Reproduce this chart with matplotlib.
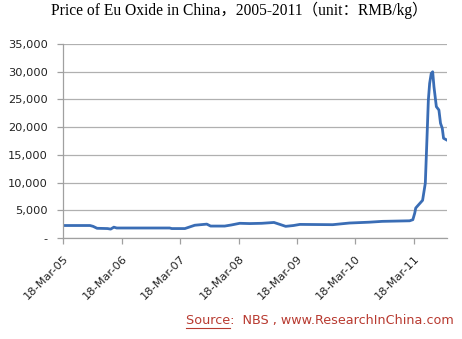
import pandas as pd
import matplotlib.pyplot as plt
import matplotlib.dates as mdates
from matplotlib.ticker import FuncFormatter
from matplotlib.lines import Line2D

# Price of Eu oxide
dates = ['2005-03-18', '2005-09-01', '2005-09-20', '2005-10-15', '2005-12-20', '2006-01-08',
         '2006-01-28', '2006-02-15', '2007-01-12', '2007-01-25', '2007-04-17', '2007-06-18',
         '2007-09-01', '2007-09-25', '2007-12-22', '2008-02-02', '2008-03-25', '2008-05-27',
         '2008-08-10', '2008-10-25', '2008-12-01', '2009-01-06', '2009-02-24', '2009-04-05',
         '2009-10-27', '2010-02-09', '2010-06-13', '2010-09-02', '2011-02-20', '2011-03-12',
         '2011-03-24', '2011-03-30', '2011-04-11', '2011-05-12', '2011-05-29', '2011-06-08',
         '2011-06-17', '2011-06-25', '2011-07-05', '2011-07-14', '2011-07-22', '2011-08-06',
         '2011-08-22', '2011-09-01', '2011-09-12', '2011-09-20', '2011-10-09']
prices = [2250, 2250, 2100, 1750, 1700, 1600,
          1950, 1800, 1800, 1700, 1700, 2300,
          2500, 2150, 2150, 2350, 2650, 2600,
          2650, 2800, 2450, 2100, 2250, 2450,
          2400, 2700, 2850, 3000, 3100, 3300,
          4500, 5400, 5800, 6800, 9900, 17700,
          24900, 27900, 29700, 30000, 27300, 23700,
          23100, 20700, 19800, 18000, 17700]
tick_dates = ['2005-03-18', '2006-03-18', '2007-03-18', '2008-03-18',
              '2009-03-18', '2010-03-18', '2011-03-18']

df = pd.DataFrame({'date': pd.to_datetime(dates), 'price': prices})

fig = plt.figure(figsize=(4.62, 3.39), dpi=100)
ax = fig.add_axes([0.137, 0.298, 0.83, 0.572])

ax.plot(df['date'], df['price'], color='#3a6db5', linewidth=2, solid_joinstyle='round')

ax.set_xlim(pd.Timestamp('2005-03-18'), pd.Timestamp('2011-10-10'))
ax.set_ylim(0, 35000)
ax.set_yticks(range(0, 35001, 5000))
ax.yaxis.set_major_formatter(FuncFormatter(lambda v, p: '-' if v == 0 else f'{int(v):,}'))
ax.set_xticks(pd.to_datetime(tick_dates))
ax.xaxis.set_major_formatter(mdates.DateFormatter('%d-%b-%y'))

ax.grid(axis='y', color='#b0b0b0', linewidth=0.9)
ax.set_axisbelow(True)
for s in ['top', 'right']:
    ax.spines[s].set_visible(False)
for s in ['left', 'bottom']:
    ax.spines[s].set_color('#a0a0a0')
    ax.spines[s].set_linewidth(0.9)
ax.tick_params(axis='both', colors='#a0a0a0', length=4, width=0.9, labelcolor='#222222', labelsize=8.2)
ax.tick_params(axis='y', pad=7)
ax.tick_params(axis='x', pad=7)
plt.setp(ax.get_xticklabels(), rotation=45, ha='right', rotation_mode='anchor')

# titel
fig.text(0.517, 0.968, 'Price of Eu Oxide in China，2005-2011（unit：RMB/kg）',
         ha='center', va='center', fontsize=11.2,
         family=['Liberation Serif', 'Noto Sans CJK SC'])

# quelle, "Source" unterstrichen
red = '#b83a30'
x0, y0 = 0.403, 0.043
fig.text(x0, y0, 'Source:  NBS , www.ResearchInChina.com', color=red, fontsize=9.2,
         ha='left', va='baseline')
src = fig.text(x0, y0, 'Source', color=red, fontsize=9.2, ha='left', va='baseline')
fig.canvas.draw()
bb = src.get_window_extent().transformed(fig.transFigure.inverted())
src.set_visible(False)
fig.add_artist(Line2D([bb.x0, bb.x1], [y0 - 0.012, y0 - 0.012], color=red, linewidth=0.8,
                      transform=fig.transFigure))

plt.savefig('out.png', dpi=100)
